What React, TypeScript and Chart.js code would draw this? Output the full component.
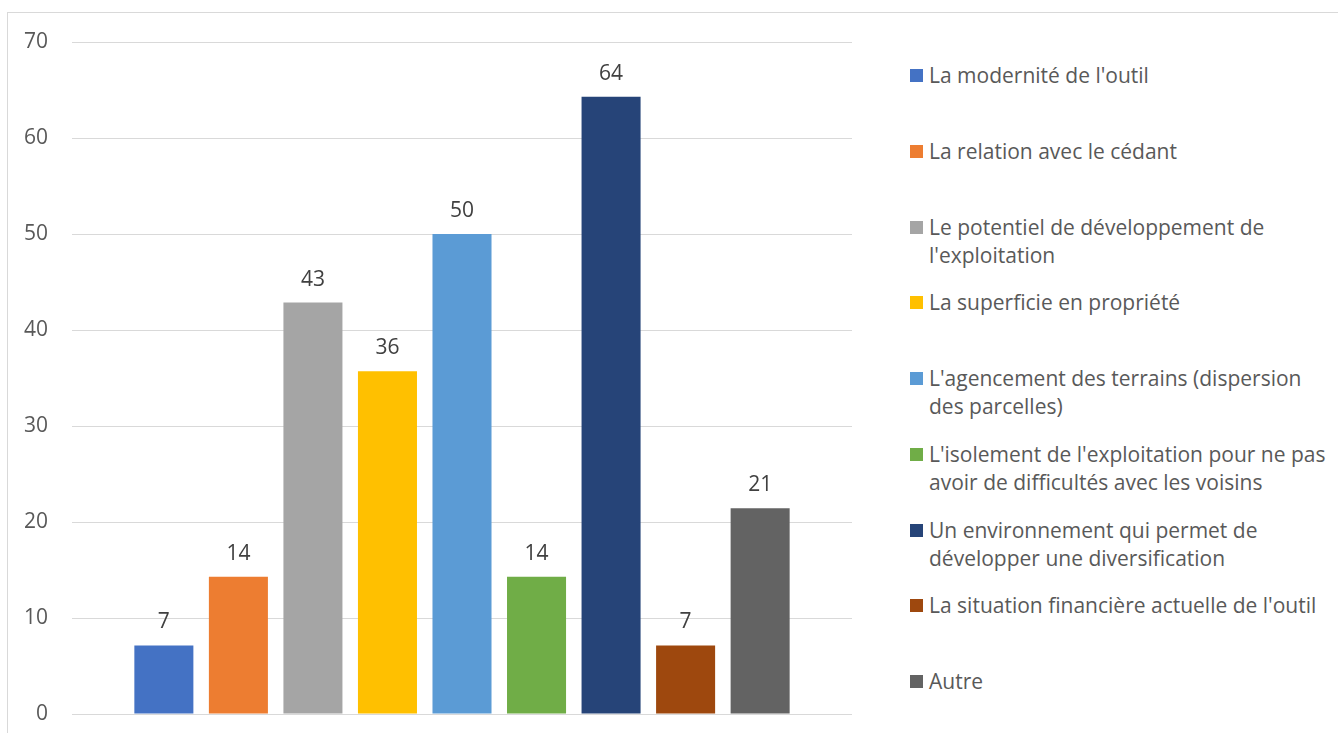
import React, { useEffect, useRef } from "react";
import { Chart, registerables } from "chart.js";

Chart.register(...registerables);

const seriesNames = [
  "La modernité de l'outil",
  "La relation avec le cédant",
  "Le potentiel de développement de\nl'exploitation",
  "La superficie en propriété",
  "L'agencement des terrains (dispersion\ndes parcelles)",
  "L'isolement de l'exploitation pour ne pas\navoir de difficultés avec les voisins",
  "Un environnement qui permet de\ndévelopper une diversification",
  "La situation financière actuelle de l'outil",
  "Autre",
];
const seriesValues = [7.14, 14.29, 42.86, 35.71, 50, 14.29, 64.29, 7.14, 21.43];
const seriesColors = [
  "#4472C4",
  "#ED7D31",
  "#A5A5A5",
  "#FFC000",
  "#5B9BD5",
  "#70AD47",
  "#264478",
  "#9E480E",
  "#636363",
];
const categories = [""];
const yTicksMin = 0;
const yTicksMax = 70;
const yTicksStep = 10;

const FONT = "'Open Sans', 'Noto Sans', sans-serif";
const FONT_SIZE = 21;
const TEXT = "#595959";

const dataLabelPlugin = {
  id: "dataLabels",
  afterDatasetsDraw(chart: any) {
    const ctx = chart.ctx;
    ctx.save();
    ctx.font = `${FONT_SIZE}px ${FONT}`;
    ctx.fillStyle = "#404040";
    ctx.textAlign = "center";
    ctx.textBaseline = "alphabetic";
    chart.data.datasets.forEach((ds: any, i: number) => {
      const meta = chart.getDatasetMeta(i);
      meta.data.forEach((bar: any, j: number) => {
        const v = ds.data[j];
        ctx.fillText(String(Math.round(v)), bar.x, bar.y - 17);
      });
    });
    ctx.restore();
  },
};

export default function App() {
  const ref = useRef<HTMLCanvasElement | null>(null);
  useEffect(() => {
    if (!ref.current) return;
    const chart = new Chart(ref.current, {
      type: "bar",
      data: {
        labels: categories,
        datasets: seriesNames.map((name, i) => ({
          label: name,
          data: [seriesValues[i]],
          backgroundColor: seriesColors[i],
          borderWidth: 0,
          barPercentage: 0.792,
          categoryPercentage: 0.86,
        })),
      },
      options: {
        animation: false,
        responsive: false,
        maintainAspectRatio: false,
        layout: { padding: { left: 0, right: 18, top: 42, bottom: 22 } },
        plugins: {
          legend: { display: false },
          tooltip: { enabled: false },
        },
        scales: {
          x: { display: false },
          y: {
            min: yTicksMin,
            max: yTicksMax,
            ticks: {
              stepSize: yTicksStep,
              padding: 24,
              color: TEXT,
              font: { family: FONT, size: FONT_SIZE },
            },
            grid: { color: "#D9D9D9", lineWidth: 1, drawTicks: false },
            border: { display: false },
            afterFit(scale: any) {
              scale.width = 72;
              scale.paddingTop = 12;
              scale.paddingBottom = 12;
            },
          },
        },
      },
      plugins: [dataLabelPlugin],
    });
    return () => chart.destroy();
  }, []);

  return (
    <div>
      <div
        style={{
          position: "absolute",
          left: 7,
          top: 12,
          width: 1330,
          height: 720,
          borderLeft: "1px solid #D9D9D9",
          borderTop: "1px solid #D9D9D9",
        }}
      />
      <canvas
        ref={ref}
        width={870}
        height={736}
        style={{ position: "absolute", left: 0, top: 0, width: 870, height: 736 }}
      />
      {seriesNames.map((name, i) => (
        <div
          key={i}
          style={{
            position: "absolute",
            left: 910,
            top: 61 + i * 75.75,
            display: "flex",
            alignItems: "flex-start",
            fontFamily: FONT,
            fontSize: FONT_SIZE,
            lineHeight: "28px",
            color: TEXT,
            whiteSpace: "pre",
          }}
        >
          <span
            style={{
              display: "inline-block",
              width: 13,
              height: 13,
              marginTop: 8,
              marginRight: 6,
              background: seriesColors[i],
              flex: "none",
            }}
          />
          <span>{name}</span>
        </div>
      ))}
    </div>
  );
}
